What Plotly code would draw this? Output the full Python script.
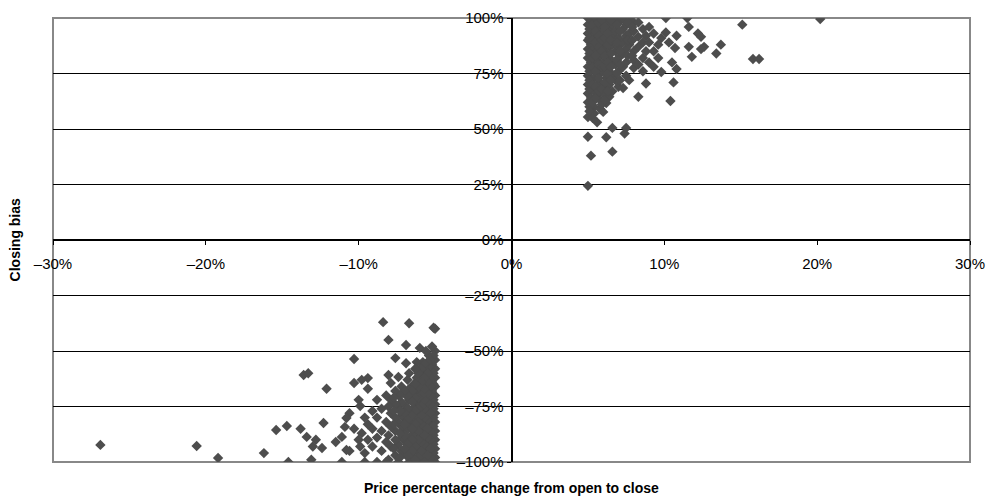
import plotly.graph_objects as go

# ---- data (percent) ----
up_x = [5.0]*14 + [5.2]*10 + [5.4]*8 + [5.6]*9 + [5.8]*8 + [6.0]*9 + [6.2]*7 + [6.4]*7 + [6.6]*8 + [6.8]*5 + [7.0]*6 + [7.3]*6 + [7.5]*6 + [7.7]*4 + [7.4] + [8.0]*5 + [8.3]*5 + [8.6]*4 + [8.8]*3 + [9.0]*3 + [9.3]*3 + [9.6]*2 + [9.8]*2 + [10.1]*2 + [10.3] + \
    [10.7, 10.8, 10.5, 10.8, 10.6, 10.4, 11.5, 11.6, 12.2, 12.4, 11.6, 12.6, 12.4, 11.8, 13.7, 13.4, 15.1, 15.8, 16.2, 20.2] + \
    [5.1]*8 + [5.3]*7 + [5.5]*7 + [5.7]*6 + [5.9]*6 + [6.1]*6 + [6.3]*5 + [6.5]*5 + [6.9]*4 + [7.1]*4 + [7.6]*3 + [7.9]*3
up_y = [100, 97, 93, 90, 86, 82, 78, 74, 70, 66, 62, 55.4, 46.5, 24.4] + \
    [99, 95, 88, 84, 80, 76, 72, 68, 64, 38] + \
    [98, 92, 86, 79, 73, 67, 60, 57] + \
    [100, 96, 90, 85, 81, 77, 70, 65, 53] + \
    [97, 93, 88, 83, 75, 71, 63, 59] + \
    [100, 94, 89, 86, 80, 76, 69, 66, 57.7] + \
    [98, 91, 84, 78, 73, 61.7, 46.3] + \
    [100, 95, 87, 82, 76, 70, 64.5] + \
    [97, 92, 88, 80, 74, 67, 50.5, 39.8] + \
    [100, 94, 85, 79, 72] + \
    [98, 91, 87, 82, 76, 69] + \
    [100, 95, 89, 84, 78, 68.5] + \
    [97, 92, 86, 80, 74, 50.5] + \
    [100, 93, 88, 72] + [48] + \
    [98, 94, 85, 81, 77.5] + \
    [98, 91.5, 87, 79, 64.5] + \
    [95, 89, 82, 76] + \
    [92, 85, 70.5] + \
    [96, 89, 80] + \
    [93, 85, 78] + \
    [88, 82] + \
    [75.7, 91] + \
    [100, 93.5] + [89] + \
    [86.5, 92, 80, 77, 71, 62.6, 100, 96, 93, 91.5, 87, 87, 86, 82.5, 88, 84, 97, 81.5, 81.5, 99.5] + \
    [95, 91, 84, 76, 72, 68, 60, 58] + \
    [97, 90, 82, 78, 70, 62, 55] + \
    [100, 94, 89, 83, 76, 69, 64] + \
    [98, 92, 87, 79, 73, 67] + \
    [99, 90, 85, 78, 68, 61] + \
    [96, 91, 83, 78, 71, 63] + \
    [93, 88, 80, 75, 67] + \
    [99, 90, 84, 78, 72] + \
    [97, 89, 81, 75] + \
    [94, 85, 79, 72] + \
    [98, 90, 83] + \
    [96, 90, 83]

lo_x = [-5.0]*15 + [-5.2]*13 + [-5.4]*12 + [-5.6]*11 + [-5.8]*10 + [-6.0]*11 + [-6.2]*8 + [-6.4]*7 + [-6.7]*8 + [-6.9]*8 + [-7.2]*6 + [-7.4]*6 + [-7.6]*7 + [-7.9]*5 + [-8.05]*5 + [-8.2]*4 + [-8.5]*3 + [-8.8]*4 + [-9.1]*3 + [-9.4]*4 + [-9.6]*3 + [-9.8]*2 + [-9.9]*2 + [-10.0]*2 + [-10.3]*3 + [-10.6]*2 + [-10.8]*2 + \
    [-10.9, -11.1, -11.1, -11.5, -12.1, -12.3, -12.4, -12.8, -13.0, -13.1, -13.4, -13.6, -13.3, -13.8, -14.7, -14.6, -15.4, -16.2, -19.2, -20.6, -26.9, -8.4, -6.7, -5.1] + \
    [-5.1]*10 + [-5.3]*10 + [-5.5]*9 + [-5.7]*9 + [-5.9]*8 + [-6.1]*8 + [-6.3]*7 + [-6.5]*6 + [-6.8]*6 + [-7.0]*5 + [-7.3]*4 + [-7.7]*4
lo_y = [-40, -50, -54, -58, -62, -66, -70, -74, -78, -82, -86, -90, -94, -98, -100] + \
    [-48, -56, -60, -64, -68, -72, -76, -80, -84, -88, -92, -96, -100] + \
    [-52, -57, -62, -67, -71, -75, -79, -83, -87, -91, -95, -100] + \
    [-50, -59, -65, -70, -74, -78, -82, -86, -90, -94, -98] + \
    [-55, -61, -66, -72, -77, -81, -85, -89, -93, -97] + \
    [-48.6, -58, -63, -69, -73, -79, -84, -88, -92, -96, -100] + \
    [-55, -62, -68, -74, -80, -86, -90, -95] + \
    [-65, -70, -76, -82, -87, -92, -98] + \
    [-60, -67, -72, -78, -84, -89, -94, -100] + \
    [-47.3, -55.5, -70, -75, -81, -86, -91, -97] + \
    [-66, -73, -79, -84, -89, -95] + \
    [-61.7, -70, -76, -82, -92, -100] + \
    [-53.2, -68, -74, -80, -86, -90, -97] + \
    [-64.4, -72, -78, -84, -93] + \
    [-45, -60.8, -75, -88, -99] + \
    [-70, -82, -91, -100] + \
    [-76, -86, -95] + \
    [-72, -80, -89, -100] + \
    [-77, -85, -93] + \
    [-62.2, -67, -83, -90] + \
    [-80, -100, -96] + \
    [-63, -87] + \
    [-74.8, -93] + \
    [-72, -90] + \
    [-53.6, -64.4, -85] + \
    [-78, -95] + \
    [-80.2, -94.6] + \
    [-84.2, -88.7, -100, -91, -67, -82.4, -93.7, -90, -93, -99, -88.7, -60.8, -60, -85, -83.8, -100, -85.6, -96, -98.2, -92.8, -92.3, -37, -37.5, -39.5] + \
    [-52, -60, -65, -72, -76, -80, -84, -88, -92, -96] + \
    [-54, -62, -66, -70, -74, -78, -86, -90, -94, -98] + \
    [-55, -60, -64, -69, -73, -81, -85, -89, -97] + \
    [-56, -62, -67, -72, -76, -80, -88, -92, -100] + \
    [-58, -64, -70, -75, -79, -83, -91, -95] + \
    [-60, -66, -71, -76, -82, -86, -90, -98] + \
    [-58, -65, -71, -77, -83, -93, -99] + \
    [-68, -73, -79, -85, -90, -95] + \
    [-63, -70, -76, -81, -92, -97] + \
    [-68, -78, -83, -88, -94] + \
    [-70, -77, -87, -98] + \
    [-71, -77, -83, -94]

x_tickvals = [-30, -20, -10, 0, 10, 20, 30]
x_ticktext = ["–30%", "–20%", "–10%", "0%", "10%", "20%", "30%"]
y_tickvals = [-100, -75, -50, -25, 0, 25, 50, 75, 100]
y_ticktext = ["–100%", "–75%", "–50%", "–25%", "0%", "25%", "50%", "75%", "100%"]

x_title = "Price percentage change from open to close"
y_title = "Closing bias"

FONT = "Liberation Sans, Arial, sans-serif"

fig = go.Figure()
fig.add_trace(go.Scatter(
    x=up_x + lo_x, y=up_y + lo_y, mode="markers",
    marker=dict(symbol="diamond", size=8, color="#4d4d4d", line=dict(width=0)),
    hoverinfo="x+y", showlegend=False))

fig.update_layout(
    width=1003, height=500,
    margin=dict(l=53, r=33, t=18, b=38, autoexpand=False),
    paper_bgcolor="white", plot_bgcolor="white",
    font=dict(family=FONT, size=15, color="black"),
    xaxis=dict(range=[-30, 30], tickvals=x_tickvals, ticktext=x_ticktext, automargin=False,
               showgrid=False, zeroline=False, showline=True, linecolor="black", linewidth=2,
               anchor="free", position=0.5, ticks="outside", ticklen=4, tickcolor="black",
               ticklabelstandoff=6,
               tickfont=dict(family=FONT, size=15)),
    yaxis=dict(range=[-100, 100], tickvals=y_tickvals, ticktext=y_ticktext, automargin=False,
               showgrid=True, gridcolor="black", gridwidth=1, zeroline=False,
               showline=True, linecolor="black", linewidth=2,
               anchor="free", position=0.5, ticks="outside", ticklen=4, tickcolor="black",
               tickfont=dict(family=FONT, size=15)),
    shapes=[dict(type="rect", xref="paper", yref="paper", x0=0, y0=0, x1=1, y1=1,
                 line=dict(color="#888888", width=2), fillcolor="rgba(0,0,0,0)", layer="between")],
    annotations=[
        dict(text="<b>" + x_title + "</b>", xref="paper", yref="paper", x=0.5, y=-0.036,
             xanchor="center", yanchor="top", showarrow=False, font=dict(family=FONT, size=14)),
        dict(text="<b>" + y_title + "</b>", xref="paper", yref="paper", x=-0.041, y=0.5,
             xanchor="center", yanchor="middle", textangle=-90, showarrow=False,
             font=dict(family=FONT, size=14)),
    ],
)

fig.write_html("out.html", config={"displayModeBar": False},
               post_script="document.body.style.margin='0px';document.body.style.overflow='hidden';")
